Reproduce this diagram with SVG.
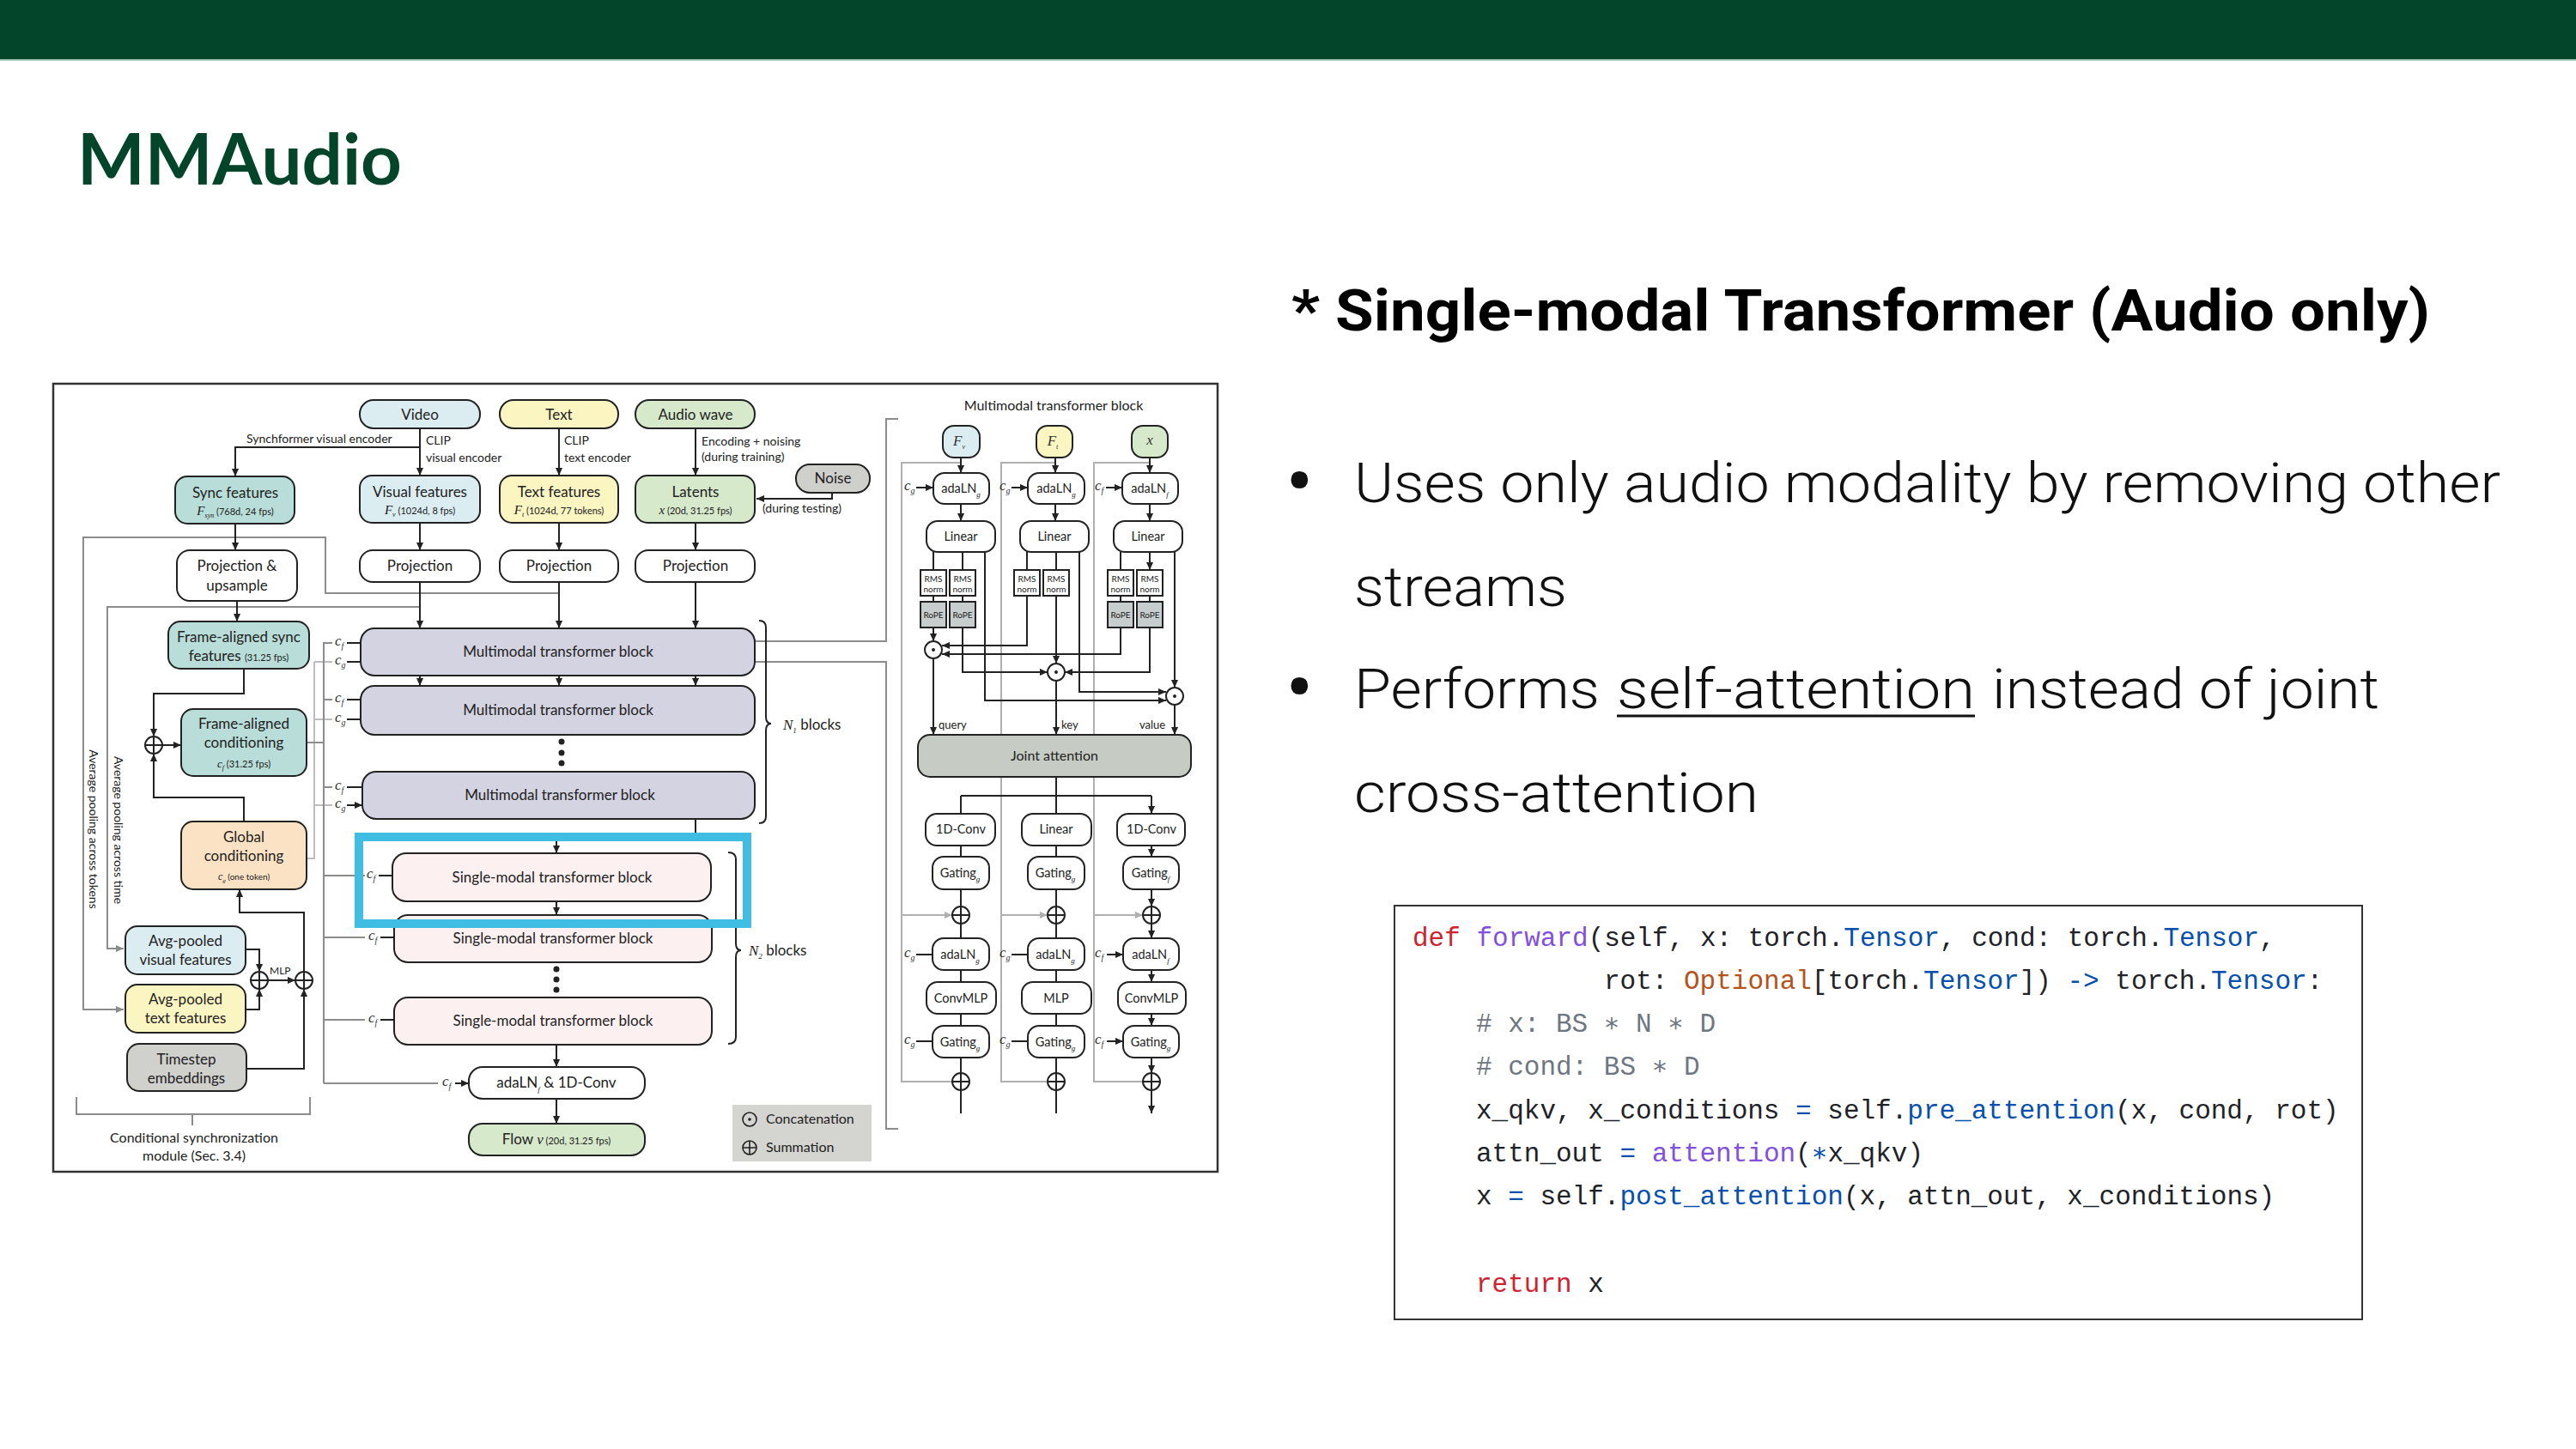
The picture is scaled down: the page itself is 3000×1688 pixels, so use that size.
<svg xmlns="http://www.w3.org/2000/svg" width="3000" height="1688" viewBox="0 0 3000 1688">
<defs>
<style>
.t{font-family:Lato,"Noto Sans","Liberation Sans",sans-serif;fill:#222;}
.L{font-size:17px;text-anchor:middle;}
.S{font-size:11px;}
.A{font-size:14px;}
.P{font-size:14.5px;text-anchor:middle;}
.R{font-size:10px;text-anchor:middle;}
.m{font-family:"Liberation Serif","DejaVu Serif",serif;font-style:italic;}
.ci{font-family:"Liberation Serif","DejaVu Serif",serif;font-style:italic;font-size:17px;fill:#333;}
.sb{font-size:10px;}
.bx{stroke:#222;stroke-width:2;}
.ln{stroke:#222;stroke-width:2;fill:none;}
.lna{stroke:#222;stroke-width:2;fill:none;marker-end:url(#ah);}
.gl{stroke:#8c8c8c;stroke-width:2;fill:none;}
.gla{stroke:#8c8c8c;stroke-width:2;fill:none;marker-end:url(#ahg);}
.lg{stroke:#bdbdbd;stroke-width:2;fill:none;}
.lga{stroke:#b0b0b0;stroke-width:2;fill:none;marker-end:url(#ahl);}
.sum{fill:#fff;stroke:#222;stroke-width:2;}
.code{font-family:"Liberation Mono","DejaVu Sans Mono",monospace;font-size:31px;fill:#1f2328;}
.kw{fill:#cf222e;}.fn{fill:#8250df;}.ty{fill:#0550ae;}.op{fill:#b5531b;}.cm{fill:#6e7781;}
.bul{font-family:Roboto,"Liberation Sans",sans-serif;font-weight:300;font-size:64px;fill:#111;}
.dot{font-family:Roboto,"Liberation Sans",sans-serif;font-weight:700;font-size:84px;fill:#111;}
</style>
<marker id="ah" viewBox="0 0 10 10" refX="10" refY="5" markerWidth="9" markerHeight="9" markerUnits="userSpaceOnUse" orient="auto"><path d="M0,0.5 L10,5 L0,9.5 z" fill="#222"/></marker>
<marker id="ahg" viewBox="0 0 10 10" refX="10" refY="5" markerWidth="9" markerHeight="9" markerUnits="userSpaceOnUse" orient="auto"><path d="M0,0.5 L10,5 L0,9.5 z" fill="#8c8c8c"/></marker>
<marker id="ahl" viewBox="0 0 10 10" refX="10" refY="5" markerWidth="9" markerHeight="9" markerUnits="userSpaceOnUse" orient="auto"><path d="M0,0.5 L10,5 L0,9.5 z" fill="#b0b0b0"/></marker>
</defs>

<rect width="3000" height="1688" fill="#ffffff"/>
<g id="header">
<rect x="0" y="0" width="3000" height="69" fill="#03452b"/>
<rect x="0" y="69" width="3000" height="2" fill="#a6cfc0"/>
<text x="90" y="215" font-family="Lato,'Liberation Sans',sans-serif" font-weight="700" font-size="82" fill="#03452b" textLength="378" lengthAdjust="spacingAndGlyphs">MMAudio</text>
</g>

<g id="heading">
<text x="1504" y="385" font-family="Roboto,'Liberation Sans',sans-serif" font-weight="700" font-size="66" fill="#000" textLength="1326" lengthAdjust="spacingAndGlyphs">* Single-modal Transformer (Audio only)</text>
</g>
<g id="bullets">
<text class="dot" x="1498" y="590">•</text>
<text class="bul" x="1577" y="585" textLength="1335" lengthAdjust="spacingAndGlyphs">Uses only audio modality by removing other</text>
<text class="bul" x="1577" y="706" textLength="248" lengthAdjust="spacingAndGlyphs">streams</text>
<text class="dot" x="1498" y="830">•</text>
<text class="bul" x="1577" y="825" textLength="286" lengthAdjust="spacingAndGlyphs">Performs</text>
<text class="bul" x="1883" y="825" textLength="417" lengthAdjust="spacingAndGlyphs">self-attention</text>
<line x1="1883" y1="834" x2="2300" y2="834" stroke="#111" stroke-width="3"/>
<text class="bul" x="2320" y="825" textLength="451" lengthAdjust="spacingAndGlyphs">instead of joint</text>
<text class="bul" x="1577" y="946" textLength="471" lengthAdjust="spacingAndGlyphs">cross-attention</text>
</g>

<g id="code">
<rect x="1624" y="1055" width="1127" height="482" fill="#fff" stroke="#333" stroke-width="2"/>
<text class="code" x="1645" y="1102"><tspan class="kw">def</tspan> <tspan class="fn">forward</tspan>(self, x: torch.<tspan class="ty">Tensor</tspan>, cond: torch.<tspan class="ty">Tensor</tspan>,</text>
<text class="code" x="1868" y="1152">rot: <tspan class="op">Optional</tspan>[torch.<tspan class="ty">Tensor</tspan>]) <tspan class="ty">-&gt;</tspan> torch.<tspan class="ty">Tensor</tspan>:</text>
<text class="code cm" x="1719" y="1202"># x: BS ∗ N ∗ D</text>
<text class="code cm" x="1719" y="1252"># cond: BS ∗ D</text>
<text class="code" x="1719" y="1303">x_qkv, x_conditions <tspan class="ty">=</tspan> self.<tspan class="ty">pre_attention</tspan>(x, cond, rot)</text>
<text class="code" x="1719" y="1353">attn_out <tspan class="ty">=</tspan> <tspan class="fn">attention</tspan>(<tspan class="ty">∗</tspan>x_qkv)</text>
<text class="code" x="1719" y="1403">x <tspan class="ty">=</tspan> self.<tspan class="ty">post_attention</tspan>(x, attn_out, x_conditions)</text>
<text class="code" x="1719" y="1505"><tspan class="kw">return</tspan> x</text>
</g>

<g id="figure-frame">
<rect x="62" y="447" width="1356" height="918" fill="#fff" stroke="#333" stroke-width="2.5"/>
</g>

<g id="connectors">
<path class="lg" d="M357,1000 H366 V771"/>
<path class="lg" d="M366,771 H387 M366,838 H387 M366,938 H387"/>
<path class="gla" d="M651,691 H379 V626 H97 V1176 H144"/>
<path class="gla" d="M489,707 H125 V1105 H144"/>
<path class="gl" d="M357,865 H377 M377,748 V1262"/>
<path class="gl" d="M377,749 H387 M377,815 H387 M377,917 H387 M377,1020 H425 M377,1092 H425 M377,1188 H425 M377,1262 H510"/>
<path class="gl" d="M879,747 H1032 V488 H1046 M879,771 H1032 V1315 H1046"/>
<path class="lna" d="M489,499 V554"/>
<path class="lna" d="M489,521 H274 V555"/>
<path class="lna" d="M651,499 V554"/>
<path class="lna" d="M810,499 V554"/>
<path class="lna" d="M969,574 V581 H881"/>
<path class="lna" d="M489,609 V641"/>
<path class="lna" d="M651,609 V641"/>
<path class="lna" d="M810,609 V641"/>
<path class="lna" d="M274,610 V641"/>
<path class="lna" d="M489,678 V732"/>
<path class="lna" d="M651,678 V732"/>
<path class="lna" d="M810,678 V732"/>
<path class="lna" d="M276,700 V724"/>
<path class="lna" d="M284,779 V808 H179 V858"/>
<path class="lna" d="M284,957 V929 H179 V878"/>
<path class="lna" d="M189,868 H211"/>
<path class="lna" d="M489,787 V799"/>
<path class="lna" d="M651,787 V799"/>
<path class="lna" d="M810,787 V799"/>
<path class="lna" d="M810,954 V975 H648 V994"/>
<path class="lna" d="M648,1050 V1066"/>
<path class="lna" d="M648,1217 V1243"/>
<path class="lna" d="M648,1280 V1309"/>
<path class="lna" d="M286,1106 H302 V1132"/>
<path class="lna" d="M286,1176 H302 V1152"/>
<path class="lna" d="M312,1142 H344"/>
<path class="lna" d="M287,1245 H354 V1152"/>
<path class="lna" d="M354,1132 V1063 H279 V1036"/>
<path class="lna" d="M404,749 H420 M404,771 H420 M404,815 H420 M404,838 H420 M404,917 H422 M404,938 H422"/>
<path class="lna" d="M441,1020 H457 M443,1092 H459 M443,1188 H459 M530,1262 H546"/>
<path class="gl" d="M89,1278 V1298 H361 V1278 M224,1298 V1311"/>
<path class="lga" d="M1119,539 H1050 V1260 H1109 M1050,1066 H1109"/>
<path class="lga" d="M1229,539 H1166 V1260 H1220 M1166,1066 H1220"/>
<path class="lga" d="M1339,539 H1274 V1260 H1331 M1274,1066 H1331"/>
<path class="lna" d="M1119,533 V551"/>
<path class="lna" d="M1229,533 V551"/>
<path class="lna" d="M1339,533 V551"/>
<path class="lna" d="M1067,568 H1087"/>
<path class="lna" d="M1178,568 H1197"/>
<path class="lna" d="M1288,568 H1307"/>
<path class="lna" d="M1119,587 V607"/>
<path class="lna" d="M1229,587 V607"/>
<path class="lna" d="M1339,587 V607"/>
<path class="lna" d="M1087,643 V664 M1121,643 V664 M1196,643 V664 M1230,643 V664 M1305,643 V664 M1339,643 V664"/>
<path class="ln" d="M1087,694 V701 M1121,694 V701 M1305,694 V701 M1339,694 V701"/>
<path class="lna" d="M1087,731 V747"/>
<path class="lna" d="M1196,694 V752 H1097"/>
<path class="lna" d="M1305,731 V762 H1097"/>
<path class="lna" d="M1121,731 V783 H1220"/>
<path class="lna" d="M1230,694 V773"/>
<path class="lna" d="M1339,731 V783 H1240"/>
<path class="lna" d="M1147,643 V816 H1358"/>
<path class="lna" d="M1257,643 V806 H1358"/>
<path class="lna" d="M1368,643 V801"/>
<path class="lna" d="M1087,767 V856"/>
<path class="lna" d="M1230,793 V856"/>
<path class="lna" d="M1368,821 V856"/>
<path class="ln" d="M1230,905 V927 M1119,927 H1341"/>
<path class="lna" d="M1119,927 V948 M1230,927 V948 M1341,927 V948"/>
<path class="lna" d="M1119,985 V998 M1230,985 V998 M1341,985 V998"/>
<path class="lna" d="M1119,1036 V1056 M1230,1036 V1056 M1341,1036 V1056"/>
<path class="lna" d="M1119,1076 V1093 M1230,1076 V1093 M1341,1076 V1093"/>
<path class="lna" d="M1119,1130 V1144 M1230,1130 V1144 M1341,1130 V1144"/>
<path class="lna" d="M1119,1181 V1195 M1230,1181 V1195 M1341,1181 V1195"/>
<path class="lna" d="M1119,1232 V1250 M1230,1232 V1250 M1341,1232 V1250"/>
<path class="lna" d="M1119,1270 V1297 M1230,1270 V1297 M1341,1270 V1297"/>
<path class="lna" d="M1067,1112 H1087 M1178,1112 H1197 M1289,1112 H1308"/>
<path class="lna" d="M1067,1213 H1086 M1178,1213 H1197 M1289,1213 H1308"/>
</g>

<g id="node-video"><rect class="bx" x="419" y="466" width="140" height="33" rx="16" fill="#dcedf2"/><text class="t L" x="489" y="489">Video</text></g>
<g id="node-text"><rect class="bx" x="582" y="466" width="138" height="33" rx="16" fill="#fbf5c2"/><text class="t L" x="651" y="489">Text</text></g>
<g id="node-audio"><rect class="bx" x="740" y="466" width="139" height="33" rx="16" fill="#d6e9cb"/><text class="t L" x="810" y="489">Audio wave</text></g>
<g id="labels-encoders">
<text class="t A" x="287" y="516">Synchformer visual encoder</text>
<text class="t A" x="496" y="518">CLIP</text><text class="t A" x="496" y="538">visual encoder</text>
<text class="t A" x="657" y="518">CLIP</text><text class="t A" x="657" y="538">text encoder</text>
<text class="t A" x="817" y="519">Encoding + noising</text><text class="t A" x="817" y="537">(during training)</text>
<text class="t A" x="888" y="597">(during testing)</text>
</g>
<g id="node-sync"><rect class="bx" x="204" y="555" width="139" height="55" rx="14" fill="#b9ddd8"/><text class="t L" x="274" y="580">Sync features</text><text class="t" x="274" y="600" text-anchor="middle" font-size="11"><tspan class="m" font-size="15">F</tspan><tspan class="m" font-size="8" dy="3">syn</tspan><tspan dy="-3"> (768d, 24 fps)</tspan></text></g>
<g id="node-visual"><rect class="bx" x="419" y="554" width="140" height="55" rx="14" fill="#dcedf2"/><text class="t L" x="489" y="579">Visual features</text><text class="t" x="489" y="599" text-anchor="middle" font-size="11"><tspan class="m" font-size="15">F</tspan><tspan class="m" font-size="8" dy="3">v</tspan><tspan dy="-3"> (1024d, 8 fps)</tspan></text></g>
<g id="node-textfeat"><rect class="bx" x="582" y="554" width="138" height="55" rx="14" fill="#fbf5c2"/><text class="t L" x="651" y="579">Text features</text><text class="t" x="651" y="599" text-anchor="middle" font-size="11"><tspan class="m" font-size="15">F</tspan><tspan class="m" font-size="8" dy="3">t</tspan><tspan dy="-3"> (1024d, 77 tokens)</tspan></text></g>
<g id="node-latents"><rect class="bx" x="740" y="554" width="139" height="55" rx="14" fill="#d6e9cb"/><text class="t L" x="810" y="579">Latents</text><text class="t" x="810" y="599" text-anchor="middle" font-size="11"><tspan class="m" font-size="15">x</tspan><tspan> (20d, 31.25 fps)</tspan></text></g>
<g id="node-noise"><rect class="bx" x="927" y="541" width="86" height="33" rx="16" fill="#cfcfcb"/><text class="t L" x="970" y="563">Noise</text></g>
<g id="node-proj-v"><rect class="bx" x="419" y="641" width="140" height="37" rx="15" fill="#fff"/><text class="t L" x="489" y="665">Projection</text></g>
<g id="node-proj-t"><rect class="bx" x="582" y="641" width="138" height="37" rx="15" fill="#fff"/><text class="t L" x="651" y="665">Projection</text></g>
<g id="node-proj-a"><rect class="bx" x="740" y="641" width="139" height="37" rx="15" fill="#fff"/><text class="t L" x="810" y="665">Projection</text></g>
<g id="node-proj-up"><rect class="bx" x="206" y="641" width="140" height="59" rx="15" fill="#fff"/><text class="t L" x="276" y="665">Projection &amp;</text><text class="t L" x="276" y="688">upsample</text></g>
<g id="node-fasync"><rect class="bx" x="196" y="724" width="164" height="55" rx="14" fill="#b9ddd8"/><text class="t L" x="278" y="748">Frame-aligned sync</text><text class="t" x="278" y="770" text-anchor="middle" font-size="17">features <tspan font-size="11">(31.25 fps)</tspan></text></g>
<g id="node-facond"><rect class="bx" x="211" y="826" width="146" height="78" rx="14" fill="#b9ddd8"/><text class="t L" x="284" y="849">Frame-aligned</text><text class="t L" x="284" y="871">conditioning</text><text class="t" x="284" y="894" text-anchor="middle" font-size="11"><tspan class="m" font-size="13">c</tspan><tspan class="m" font-size="8" dy="3">f</tspan><tspan dy="-3"> (31.25 fps)</tspan></text></g>
<g id="node-global"><rect class="bx" x="211" y="957" width="146" height="79" rx="14" fill="#fce2c4"/><text class="t L" x="284" y="981">Global</text><text class="t L" x="284" y="1003">conditioning</text><text class="t" x="284" y="1025" text-anchor="middle" font-size="10"><tspan class="m" font-size="12">c</tspan><tspan class="m" font-size="7" dy="3">g</tspan><tspan dy="-3"> (one token)</tspan></text></g>
<g id="node-sumA"><circle class="sum" cx="179" cy="868" r="10"/><path class="ln" d="M169,868 H189 M179,858 V878"/></g>
<g id="node-avgvis"><rect class="bx" x="146" y="1079" width="140" height="56" rx="14" fill="#dcedf2"/><text class="t L" x="216" y="1102">Avg-pooled</text><text class="t L" x="216" y="1124">visual features</text></g>
<g id="node-avgtext"><rect class="bx" x="146" y="1147" width="140" height="56" rx="14" fill="#fbf5c2"/><text class="t L" x="216" y="1170">Avg-pooled</text><text class="t L" x="216" y="1192">text features</text></g>
<g id="node-timestep"><rect class="bx" x="148" y="1216" width="139" height="55" rx="14" fill="#d0d0cc"/><text class="t L" x="217" y="1240">Timestep</text><text class="t L" x="217" y="1262">embeddings</text></g>
<g id="node-sumB"><circle class="sum" cx="302" cy="1142" r="10"/><path class="ln" d="M292,1142 H312 M302,1132 V1152"/></g>
<g id="node-sumC"><circle class="sum" cx="354" cy="1142" r="10"/><path class="ln" d="M344,1142 H364 M354,1132 V1152"/></g>
<text class="t" x="314" y="1135" font-size="12">MLP</text>
<g id="labels-pooling">
<text class="t A" transform="translate(109,966) rotate(90)" x="0" y="5" text-anchor="middle">Average pooling across tokens</text>
<text class="t A" transform="translate(138,967) rotate(90)" x="0" y="5" text-anchor="middle">Average pooling across time</text>
<text class="t" x="226" y="1331" font-size="16" text-anchor="middle">Conditional synchronization</text>
<text class="t" x="226" y="1352" font-size="16" text-anchor="middle">module (Sec. 3.4)</text>
</g>

<g id="c-labels-left">
<text class="ci" x="390" y="752">c<tspan class="sb" dy="4">f</tspan></text>
<text class="ci" x="390" y="774">c<tspan class="sb" dy="4">g</tspan></text>
<text class="ci" x="390" y="818">c<tspan class="sb" dy="4">f</tspan></text>
<text class="ci" x="390" y="841">c<tspan class="sb" dy="4">g</tspan></text>
<text class="ci" x="390" y="920">c<tspan class="sb" dy="4">f</tspan></text>
<text class="ci" x="390" y="941">c<tspan class="sb" dy="4">g</tspan></text>
<text class="ci" x="427" y="1023">c<tspan class="sb" dy="4">f</tspan></text>
<text class="ci" x="429" y="1095">c<tspan class="sb" dy="4">f</tspan></text>
<text class="ci" x="429" y="1191">c<tspan class="sb" dy="4">f</tspan></text>
<text class="ci" x="515" y="1265">c<tspan class="sb" dy="4">f</tspan></text>
</g>

<g id="node-mm1"><rect class="bx" x="420" y="732" width="459" height="55" rx="16" fill="#d4d3e1"/><text class="t L" x="650" y="765">Multimodal transformer block</text></g>
<g id="node-mm2"><rect class="bx" x="420" y="799" width="459" height="57" rx="16" fill="#d4d3e1"/><text class="t L" x="650" y="833">Multimodal transformer block</text></g>
<g id="dots-mm"><circle cx="654" cy="864" r="3.5" fill="#222"/><circle cx="654" cy="877" r="3.5" fill="#222"/><circle cx="654" cy="889" r="3.5" fill="#222"/></g>
<g id="node-mm3"><rect class="bx" x="422" y="899" width="457" height="55" rx="16" fill="#d4d3e1"/><text class="t L" x="652" y="932">Multimodal transformer block</text></g>
<g id="brace-n1"><path class="ln" stroke-width="1.8" d="M884,723 Q892,723 892,731 V835 Q892,843 898,843 Q892,843 892,851 V951 Q892,959 884,959"/><text x="912" y="850" font-size="17" class="t"><tspan class="m">N</tspan><tspan class="m" font-size="9" dy="4">1</tspan><tspan dy="-4"> blocks</tspan></text></g>

<g id="node-s1"><rect class="bx" x="457" y="994" width="371" height="56" rx="16" fill="#fcf0f0"/><text class="t L" x="643" y="1028">Single-modal transformer block</text></g>
<g id="node-s2"><rect class="bx" x="459" y="1066" width="370" height="55" rx="16" fill="#fcf0f0"/><text class="t L" x="644" y="1099">Single-modal transformer block</text></g>
<g id="dots-s"><circle cx="648" cy="1129" r="3.5" fill="#222"/><circle cx="648" cy="1141" r="3.5" fill="#222"/><circle cx="648" cy="1153" r="3.5" fill="#222"/></g>
<g id="node-s3"><rect class="bx" x="459" y="1162" width="370" height="55" rx="16" fill="#fcf0f0"/><text class="t L" x="644" y="1195">Single-modal transformer block</text></g>
<g id="brace-n2"><path class="ln" stroke-width="1.8" d="M848,993 Q857,993 857,1001 V1099 Q857,1107 863,1107 Q857,1107 857,1115 V1208 Q857,1216 848,1216"/><text x="872" y="1113" font-size="17" class="t"><tspan class="m">N</tspan><tspan class="m" font-size="9" dy="4">2</tspan><tspan dy="-4"> blocks</tspan></text></g>
<g id="node-final"><rect class="bx" x="546" y="1243" width="205" height="37" rx="16" fill="#fff"/><text class="t L" x="648" y="1267">adaLN<tspan class="m" font-size="9" dy="5">f</tspan><tspan dy="-5"> &amp; 1D-Conv</tspan></text></g>
<g id="node-flow"><rect class="bx" x="546" y="1309" width="205" height="37" rx="16" fill="#d6e9cb"/><text class="t" x="648" y="1333" text-anchor="middle" font-size="17">Flow <tspan class="m">v</tspan><tspan font-size="11"> (20d, 31.25 fps)</tspan></text></g>
<g id="highlight"><rect x="418" y="975" width="452" height="101" fill="none" stroke="#3fbde3" stroke-width="10"/></g>
<g id="legend"><rect x="853" y="1287" width="162" height="66" fill="#d4d4d1"/><circle cx="873" cy="1304" r="8" fill="none" stroke="#222" stroke-width="1.6"/><circle cx="873" cy="1304" r="1.8" fill="#222"/><circle cx="873" cy="1337" r="8" fill="none" stroke="#222" stroke-width="1.6"/><path d="M865,1337 H881 M873,1329 V1345" stroke="#222" stroke-width="1.6"/><text class="t" x="892" y="1309" font-size="16">Concatenation</text><text class="t" x="892" y="1342" font-size="16">Summation</text></g>

<g id="panel-title"><text class="t" x="1227" y="478" font-size="16" text-anchor="middle">Multimodal transformer block</text></g>
<g id="node-Fv"><rect class="bx" x="1098" y="496" width="43" height="37" rx="13" fill="#dcedf2"/><text x="1117" y="519" font-size="16" text-anchor="middle" class="ci">F<tspan font-size="8" dy="4">v</tspan></text></g>
<g id="node-Ft"><rect class="bx" x="1207" y="496" width="42" height="37" rx="13" fill="#fbf5c2"/><text x="1226" y="519" font-size="16" text-anchor="middle" class="ci">F<tspan font-size="8" dy="4">t</tspan></text></g>
<g id="node-x"><rect class="bx" x="1318" y="496" width="42" height="37" rx="13" fill="#d6e9cb"/><text x="1339" y="518" font-size="16" text-anchor="middle" class="ci">x</text></g>
<g id="c-labels-right">
<text class="ci" x="1053" y="571" font-size="15">c<tspan class="sb" dy="4">g</tspan></text>
<text class="ci" x="1164" y="571" font-size="15">c<tspan class="sb" dy="4">g</tspan></text>
<text class="ci" x="1275" y="571" font-size="15">c<tspan class="sb" dy="4">f</tspan></text>
<text class="ci" x="1053" y="1115" font-size="15">c<tspan class="sb" dy="4">g</tspan></text>
<text class="ci" x="1164" y="1115" font-size="15">c<tspan class="sb" dy="4">g</tspan></text>
<text class="ci" x="1275" y="1115" font-size="15">c<tspan class="sb" dy="4">f</tspan></text>
<text class="ci" x="1053" y="1216" font-size="15">c<tspan class="sb" dy="4">g</tspan></text>
<text class="ci" x="1164" y="1216" font-size="15">c<tspan class="sb" dy="4">g</tspan></text>
<text class="ci" x="1275" y="1216" font-size="15">c<tspan class="sb" dy="4">f</tspan></text>
</g>
<g id="node-ada1"><rect class="bx" x="1087" y="551" width="65" height="36" rx="13" fill="#fff"/><text class="t P" x="1119" y="574">adaLN<tspan class="m" font-size="9" dy="5">g</tspan></text></g>
<g id="node-ada2"><rect class="bx" x="1197" y="551" width="66" height="36" rx="13" fill="#fff"/><text class="t P" x="1230" y="574">adaLN<tspan class="m" font-size="9" dy="5">g</tspan></text></g>
<g id="node-ada3"><rect class="bx" x="1307" y="551" width="65" height="36" rx="13" fill="#fff"/><text class="t P" x="1339" y="574">adaLN<tspan class="m" font-size="9" dy="5">f</tspan></text></g>
<g id="node-lin1"><rect class="bx" x="1079" y="607" width="80" height="36" rx="13" fill="#fff"/><text class="t P" x="1119" y="630">Linear</text></g>
<g id="node-lin2"><rect class="bx" x="1188" y="607" width="80" height="36" rx="13" fill="#fff"/><text class="t P" x="1228" y="630">Linear</text></g>
<g id="node-lin3"><rect class="bx" x="1297" y="607" width="80" height="36" rx="13" fill="#fff"/><text class="t P" x="1337" y="630">Linear</text></g>
<g id="node-rms">
<rect class="bx" x="1072" y="664" width="30" height="30" fill="#fff" stroke-width="1.5"/><rect class="bx" x="1106" y="664" width="30" height="30" fill="#fff" stroke-width="1.5"/>
<rect class="bx" x="1181" y="664" width="30" height="30" fill="#fff" stroke-width="1.5"/><rect class="bx" x="1215" y="664" width="30" height="30" fill="#fff" stroke-width="1.5"/>
<rect class="bx" x="1290" y="664" width="30" height="30" fill="#fff" stroke-width="1.5"/><rect class="bx" x="1324" y="664" width="30" height="30" fill="#fff" stroke-width="1.5"/>
<text class="t R" x="1087" y="678">RMS</text><text class="t R" x="1087" y="690">norm</text>
<text class="t R" x="1121" y="678">RMS</text><text class="t R" x="1121" y="690">norm</text>
<text class="t R" x="1196" y="678">RMS</text><text class="t R" x="1196" y="690">norm</text>
<text class="t R" x="1230" y="678">RMS</text><text class="t R" x="1230" y="690">norm</text>
<text class="t R" x="1305" y="678">RMS</text><text class="t R" x="1305" y="690">norm</text>
<text class="t R" x="1339" y="678">RMS</text><text class="t R" x="1339" y="690">norm</text>
</g>
<g id="node-rope">
<rect class="bx" x="1072" y="701" width="30" height="30" fill="#c7cdcd" stroke-width="1.5"/><rect class="bx" x="1106" y="701" width="30" height="30" fill="#c7cdcd" stroke-width="1.5"/>
<rect class="bx" x="1290" y="701" width="30" height="30" fill="#c7cdcd" stroke-width="1.5"/><rect class="bx" x="1324" y="701" width="30" height="30" fill="#c7cdcd" stroke-width="1.5"/>
<text class="t R" x="1087" y="720">RoPE</text><text class="t R" x="1121" y="720">RoPE</text><text class="t R" x="1305" y="720">RoPE</text><text class="t R" x="1339" y="720">RoPE</text>
</g>
<g id="node-concat"><circle class="sum" cx="1087" cy="757" r="10"/><circle cx="1087" cy="757" r="2" fill="#222"/><circle class="sum" cx="1230" cy="783" r="10"/><circle cx="1230" cy="783" r="2" fill="#222"/><circle class="sum" cx="1368" cy="811" r="10"/><circle cx="1368" cy="811" r="2" fill="#222"/></g>
<g id="qkv-labels"><text class="t" x="1093" y="849" font-size="13">query</text><text class="t" x="1236" y="849" font-size="13">key</text><text class="t" x="1327" y="849" font-size="13">value</text></g>
<g id="node-joint"><rect class="bx" x="1069" y="856" width="318" height="49" rx="14" fill="#c6ccc3"/><text class="t" x="1228" y="886" font-size="16" text-anchor="middle">Joint attention</text></g>
<g id="node-row1">
<rect class="bx" x="1078" y="948" width="81" height="37" rx="13" fill="#fff"/><text class="t P" x="1119" y="971">1D-Conv</text>
<rect class="bx" x="1190" y="948" width="81" height="37" rx="13" fill="#fff"/><text class="t P" x="1230" y="971">Linear</text>
<rect class="bx" x="1301" y="948" width="79" height="37" rx="13" fill="#fff"/><text class="t P" x="1341" y="971">1D-Conv</text>
</g>
<g id="node-gate1">
<rect class="bx" x="1086" y="998" width="66" height="38" rx="13" fill="#fff"/><text class="t P" x="1118" y="1022">Gating<tspan class="m" font-size="9" dy="5">g</tspan></text>
<rect class="bx" x="1197" y="998" width="66" height="38" rx="13" fill="#fff"/><text class="t P" x="1229" y="1022">Gating<tspan class="m" font-size="9" dy="5">g</tspan></text>
<rect class="bx" x="1308" y="998" width="65" height="38" rx="13" fill="#fff"/><text class="t P" x="1340" y="1022">Gating<tspan class="m" font-size="9" dy="5">f</tspan></text>
</g>
<g id="node-sum1"><circle class="sum" cx="1119" cy="1066" r="10"/><circle class="sum" cx="1230" cy="1066" r="10"/><circle class="sum" cx="1341" cy="1066" r="10"/><path class="ln" d="M1109,1066 H1129 M1220,1066 H1240 M1331,1066 H1351"/></g>
<g id="node-ada-lower">
<rect class="bx" x="1086" y="1093" width="66" height="37" rx="13" fill="#fff"/><text class="t P" x="1118" y="1117">adaLN<tspan class="m" font-size="9" dy="5">g</tspan></text>
<rect class="bx" x="1197" y="1093" width="66" height="37" rx="13" fill="#fff"/><text class="t P" x="1229" y="1117">adaLN<tspan class="m" font-size="9" dy="5">g</tspan></text>
<rect class="bx" x="1308" y="1093" width="65" height="37" rx="13" fill="#fff"/><text class="t P" x="1340" y="1117">adaLN<tspan class="m" font-size="9" dy="5">f</tspan></text>
</g>
<g id="node-mlp">
<rect class="bx" x="1079" y="1144" width="81" height="37" rx="13" fill="#fff"/><text class="t P" x="1119" y="1168">ConvMLP</text>
<rect class="bx" x="1190" y="1144" width="81" height="37" rx="13" fill="#fff"/><text class="t P" x="1230" y="1168">MLP</text>
<rect class="bx" x="1302" y="1144" width="79" height="37" rx="13" fill="#fff"/><text class="t P" x="1341" y="1168">ConvMLP</text>
</g>
<g id="node-gate2">
<rect class="bx" x="1086" y="1195" width="66" height="37" rx="13" fill="#fff"/><text class="t P" x="1118" y="1219">Gating<tspan class="m" font-size="9" dy="5">g</tspan></text>
<rect class="bx" x="1197" y="1195" width="66" height="37" rx="13" fill="#fff"/><text class="t P" x="1229" y="1219">Gating<tspan class="m" font-size="9" dy="5">g</tspan></text>
<rect class="bx" x="1308" y="1195" width="65" height="37" rx="13" fill="#fff"/><text class="t P" x="1340" y="1219">Gating<tspan class="m" font-size="9" dy="5">g</tspan></text>
</g>
<g id="node-sum2"><circle class="sum" cx="1119" cy="1260" r="10"/><circle class="sum" cx="1230" cy="1260" r="10"/><circle class="sum" cx="1341" cy="1260" r="10"/><path class="ln" d="M1109,1260 H1129 M1119,1250 V1270 M1220,1260 H1240 M1230,1250 V1270 M1331,1260 H1351 M1341,1250 V1270"/><path class="ln" d="M1119,1056 V1076 M1230,1056 V1076 M1341,1056 V1076"/></g>
</svg>
